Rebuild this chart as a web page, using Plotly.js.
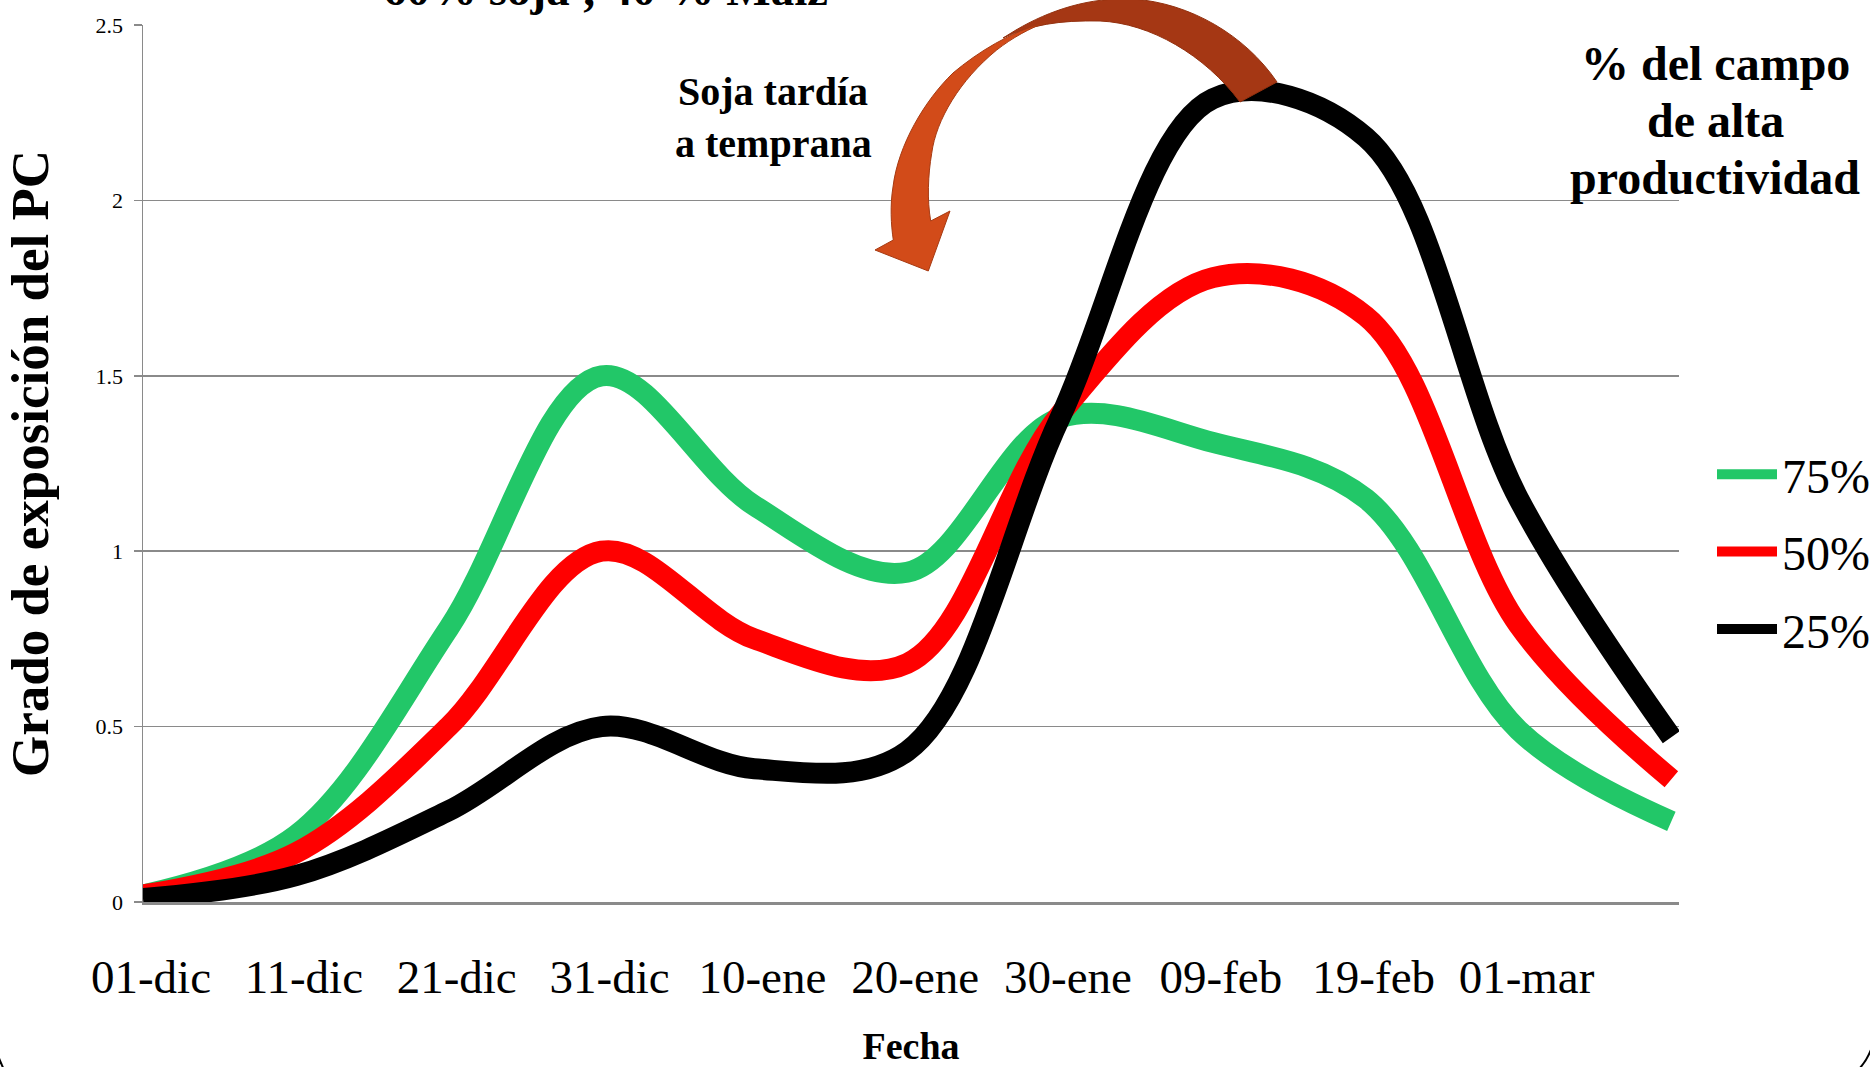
<!DOCTYPE html>
<html>
<head>
<meta charset="utf-8">
<script src="https://cdn.plot.ly/plotly-3.0.1.min.js"></script>
<style>
  html, body { margin: 0; padding: 0; background: #fff; }
  #chart { width: 1870px; height: 1067px; }
</style>
</head>
<body>
<div id="chart"></div>
<script>
// ---- data ----
const categories = ['01-dic','11-dic','21-dic','31-dic','10-ene','20-ene','30-ene','09-feb','19-feb','01-mar','11-mar'];
const tickLabels = ['01-dic','11-dic','21-dic','31-dic','10-ene','20-ene','30-ene','09-feb','19-feb','01-mar'];
const yTicks = [0, 0.5, 1, 1.5, 2, 2.5];
const yTickText = ['0', '0.5', '1', '1.5', '2', '2.5'];
const seriesNames = ['75%', '50%', '25%'];
const pct75 = [0.02, 0.19, 0.78, 1.50, 1.13, 0.94, 1.38, 1.31, 1.15, 0.49, 0.23];
const pct50 = [0.02, 0.14, 0.50, 1.00, 0.75, 0.68, 1.39, 1.78, 1.67, 0.79, 0.35];
const pct25 = [0.01, 0.075, 0.26, 0.50, 0.38, 0.43, 1.38, 2.29, 2.18, 1.15, 0.47];
const seriesColors = ['#22C768', '#FF0000', '#000000'];

// ---- layout helpers (pixel -> paper) ----
const W = 1870, H = 1067;
const M = {l: 143, r: 191, t: 25, b: 165, autoexpand: false};
const PW = W - M.l - M.r, PH = H - M.t - M.b;
const xp = px => (px - M.l) / PW;
const yp = py => (H - M.b - py) / PH;
const P = (x, y) => xp(x).toFixed(5) + ',' + yp(y).toFixed(5);

const serif = 'Liberation Serif, Times New Roman, serif';

const allSeries = [pct75, pct50, pct25];
const traces = allSeries.map((vals, i) => ({
  type: 'scatter',
  mode: 'lines',
  x: categories,
  y: vals,
  name: seriesNames[i],
  legendgroup: 'g' + i,
  line: {color: seriesColors[i], width: 21, shape: 'spline', smoothing: 1}
}));

// curved arrow (decoration) drawn in page pixels
const arrowBackPath =
  'M ' + P(1277, 82) +
  ' C ' + P(1245, 35) + ' ' + P(1190, 3) + ' ' + P(1133, -1) +
  ' C ' + P(1090, -3) + ' ' + P(1050, 10) + ' ' + P(1016, 30) +
  ' L ' + P(1003, 38) +
  ' C ' + P(1030, 25) + ' ' + P(1060, 20) + ' ' + P(1100, 21) +
  ' C ' + P(1150, 23) + ' ' + P(1205, 55) + ' ' + P(1240, 102) + ' Z';
const arrowFrontPath =
  'M ' + P(1047, 22) +
  ' C ' + P(1010, 32) + ' ' + P(978, 52) + ' ' + P(953, 73) +
  ' C ' + P(925, 100) + ' ' + P(898, 145) + ' ' + P(893, 187) +
  ' C ' + P(890, 205) + ' ' + P(891, 225) + ' ' + P(893.3, 240) +
  ' L ' + P(875, 250) + ' L ' + P(928.3, 271) + ' L ' + P(950, 211) + ' L ' + P(930.7, 221) +
  ' C ' + P(927, 200) + ' ' + P(928, 175) + ' ' + P(931.7, 153.3) +
  ' C ' + P(936, 120) + ' ' + P(960, 80) + ' ' + P(996.7, 50) +
  ' C ' + P(1012, 38) + ' ' + P(1030, 28) + ' ' + P(1047, 22) + ' Z';

const bold = (text, x, y, size) => ({
  text: text, xref: 'paper', yref: 'paper', x: xp(x), y: yp(y),
  xanchor: 'center', yanchor: 'middle', showarrow: false,
  font: {family: serif, size: size, weight: 700, color: '#000'}
});

const layout = {
  width: W, height: H,
  margin: M,
  paper_bgcolor: '#ffffff',
  plot_bgcolor: '#ffffff',
  font: {family: serif, color: '#000'},
  showlegend: true,
  legend: {
    x: xp(1712), xanchor: 'left',
    y: yp(552), yanchor: 'middle',
    font: {family: serif, size: 48, color: '#000'},
    traceorder: 'grouped',
    tracegroupgap: 12,
    itemwidth: 60,
    bgcolor: 'rgba(0,0,0,0)',
    borderwidth: 0
  },
  xaxis: {
    type: 'category',
    range: [0, 10.05],
    tickmode: 'array',
    tickvals: tickLabels,
    ticktext: tickLabels,
    ticks: '',
    showgrid: false,
    showline: true,
    linecolor: '#8a8a8a',
    linewidth: 2.5,
    tickfont: {family: serif, size: 47, color: '#000'},
    ticklabelshift: 8,
    ticklabelstandoff: 32,
    title: {text: 'Fecha', font: {family: serif, size: 38, weight: 700, color: '#000'}, standoff: 54},
    fixedrange: true
  },
  yaxis: {
    range: [0, 2.5],
    tickmode: 'array',
    tickvals: yTicks,
    ticktext: yTickText,
    ticks: 'outside',
    ticklen: 8,
    tickwidth: 1.5,
    tickcolor: '#8a8a8a',
    showgrid: true,
    gridcolor: '#8a8a8a',
    gridwidth: 1.5,
    zeroline: false,
    showline: true,
    linecolor: '#8a8a8a',
    linewidth: 1.5,
    tickfont: {family: serif, size: 22, color: '#000'},
    ticklabelstandoff: 6,
    title: {text: 'Grado de exposición del PC', font: {family: serif, size: 53, weight: 700, color: '#000'}, standoff: 30},
    fixedrange: true
  },
  shapes: [
    {type: 'path', xref: 'paper', yref: 'paper', path: arrowBackPath,
     fillcolor: '#A53714', line: {color: '#93310f', width: 1}, layer: 'above'},
    {type: 'path', xref: 'paper', yref: 'paper', path: arrowFrontPath,
     fillcolor: '#D24B19', line: {color: '#A63A12', width: 1}, layer: 'above'},
    // edges of the rounded page frame visible at the bottom corners
    {type: 'path', xref: 'paper', yref: 'paper',
     path: 'M ' + P(1873, 1044) + ' Q ' + P(1868, 1060) + ' ' + P(1858, 1070),
     line: {color: '#000', width: 2}, layer: 'above'},
    {type: 'path', xref: 'paper', yref: 'paper',
     path: 'M ' + P(-2, 1056) + ' Q ' + P(1, 1063) + ' ' + P(4, 1070),
     line: {color: '#000', width: 2}, layer: 'above'}
  ],
  annotations: [
    bold('60% soja ; 40 % Maíz', 605, -11, 47),
    bold('Soja tardía', 773, 91, 40),
    bold('a temprana', 773, 143, 40),
    bold('% del campo', 1715, 63.6, 48),
    bold('de alta', 1715, 120.6, 48),
    bold('productividad', 1715, 177.6, 48)
  ]
};

Plotly.newPlot('chart', traces, layout, {displayModeBar: false, staticPlot: true});
</script>
</body>
</html>
